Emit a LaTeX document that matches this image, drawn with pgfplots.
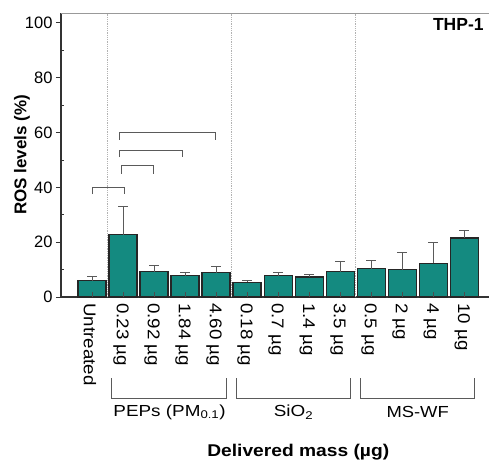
\documentclass[border=0pt]{standalone}
\usepackage{fontspec}
\setmainfont{Liberation Sans}
\usepackage{pgfplots}
\usepackage{pgfplotstable}
\pgfplotsset{compat=1.18}
\definecolor{barteal}{RGB}{20,138,128}
\definecolor{errgray}{RGB}{90,90,90}
\pgfplotstableread{
x y e
0 6.0 1.4
1 22.7 10.3
2 9.2 2.2
3 7.7 1.2
4 8.9 2.4
5 5.4 0.8
6 7.7 1.2
7 7.3 0.8
8 9.2 3.8
9 10.3 2.9
10 10.0 6.2
11 12.3 7.7
12 21.5 2.6
}\datatable
\begin{document}
\begin{tikzpicture}[x=1pt,y=1pt]
\begin{axis}[
  name=ax,
  scale only axis,
  width=428pt, height=284pt,
  xmin=-1, xmax=12.8,
  ymin=0, ymax=103.6,
  axis x line*=bottom,
  axis y line*=left,
  axis line style={line width=1.1pt, black!80},
  xtick={0,...,12},
  xticklabels={Untreated,0.23 µg,0.92 µg,1.84 µg,4.60 µg,0.18 µg,0.7 µg,1.4 µg,3.5 µg,0.5 µg,2 µg,4 µg,10 µg},
  xticklabel style={xshift=-2pt, rotate=-90, anchor=west, xscale=1.1, font=\fontsize{17}{18}\selectfont, inner sep=1pt},
  xtick style={draw=none},
  ytick={0,20,40,60,80,100},
  minor ytick={10,30,50,70,90},
  yticklabel style={font=\fontsize{16.5}{17}\selectfont},
  /pgf/number format/assume math mode=true,
  tick align=outside,
  major tick length=5pt,
  minor tick length=-3pt,
  ytick style={black!80, line width=0.8pt},
  clip=false,
]
\addplot[ybar, bar width=28pt, bar shift=0pt, fill=barteal, draw=black!85, line width=1.2pt,
  error bars/.cd, y dir=plus, y explicit,
  error bar style={errgray, line width=1pt},
  error mark options={errgray, rotate=90, mark size=5pt, line width=1pt}]
  table[x=x, y=y, y error=e] {\datatable};
% inner x ticks
\pgfplotsinvokeforeach{0,...,12}{\draw[black!70, line width=0.8pt] (axis cs:#1,0) -- ++(0pt,5pt);}
% separators
\draw[black!30, densely dotted, line width=0.8pt] (axis cs:0.5,0) -- (axis cs:0.5,103.6);
\draw[black!30, densely dotted, line width=0.8pt] (axis cs:4.5,0) -- (axis cs:4.5,103.6);
\draw[black!30, densely dotted, line width=0.8pt] (axis cs:8.5,0) -- (axis cs:8.5,103.6);
% top line
\draw[black!40, line width=1pt] (axis cs:-1,103.6) -- (axis cs:12.8,103.6);
% significance brackets
\draw[errgray, line width=0.9pt] (axis cs:0,37.5) -- (axis cs:0,40) -- (axis cs:1.03,40) -- (axis cs:1.03,37.5);
\draw[errgray, line width=0.9pt] (axis cs:0.96,45) -- (axis cs:0.96,48) -- (axis cs:1.97,48) -- (axis cs:1.97,45);
\draw[errgray, line width=0.9pt] (axis cs:0.9,51) -- (axis cs:0.9,53.4) -- (axis cs:2.9,53.4) -- (axis cs:2.9,51);
\draw[errgray, line width=0.9pt] (axis cs:0.87,57.3) -- (axis cs:0.87,60) -- (axis cs:3.97,60) -- (axis cs:3.97,57.3);
% group brackets
\draw[errgray, line width=0.9pt] (axis cs:0.64,-29.6) -- (axis cs:0.64,-36.9) -- (axis cs:4.35,-36.9) -- (axis cs:4.35,-29.6);
\draw[errgray, line width=0.9pt] (axis cs:4.67,-29.6) -- (axis cs:4.67,-36.9) -- (axis cs:8.32,-36.9) -- (axis cs:8.32,-29.6);
\draw[errgray, line width=0.9pt] (axis cs:8.65,-29.6) -- (axis cs:8.65,-36.9) -- (axis cs:12.32,-36.9) -- (axis cs:12.32,-29.6);
\node[font=\fontsize{16}{17}\selectfont, xscale=1.18] at (axis cs:2.5,-42) {PEPs (PM$_{\mathrm{0.1}}$)};
\node[font=\fontsize{16}{17}\selectfont, xscale=1.18] at (axis cs:6.5,-42) {SiO$_{\mathrm{2}}$};
\node[font=\fontsize{16}{17}\selectfont, xscale=1.15] at (axis cs:10.5,-42) {MS-WF};
\node[font=\bfseries\fontsize{17}{18}\selectfont, xscale=1.13] at (axis cs:6.65,-56.6) {Delivered mass (µg)};
\node[font=\bfseries\fontsize{17}{18}\selectfont, rotate=90] at (axis cs:-2.26,51.8) {ROS levels (\%)};
\node[font=\bfseries\fontsize{17.5}{18}\selectfont, anchor=east] at (axis cs:12.74,99.3) {THP-1};
\end{axis}
\pgfresetboundingbox
\path (ax.south west) ++(-61,-164) rectangle ++(489,461);
\end{tikzpicture}
\end{document}
